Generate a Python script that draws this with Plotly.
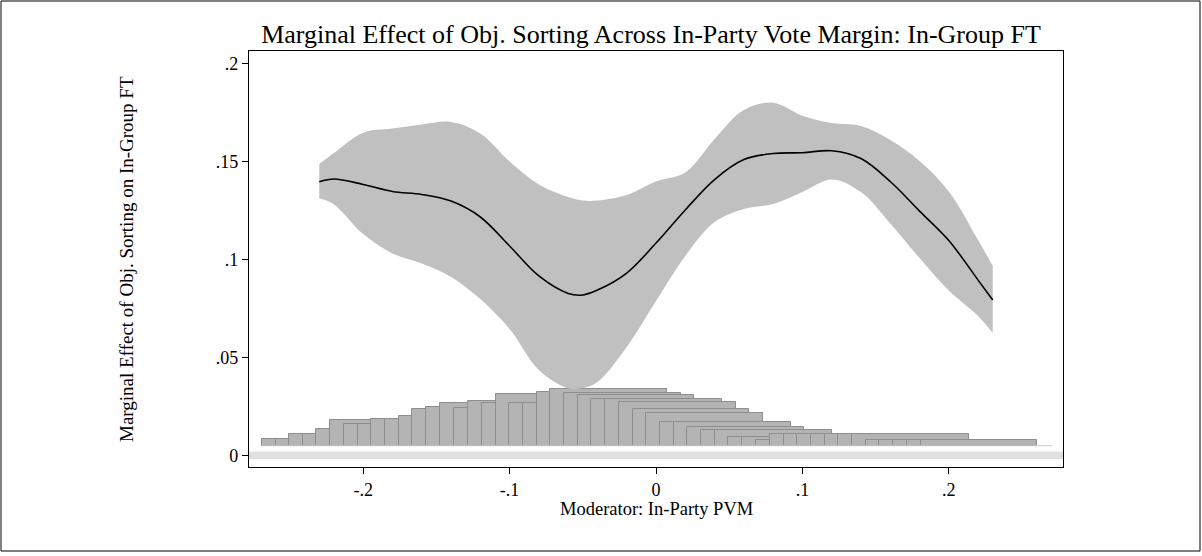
import plotly.graph_objects as go

# ---------------- data ----------------
pvm_grid = [-0.23, -0.22, -0.20, -0.18, -0.16, -0.14, -0.12, -0.10, -0.08, -0.06,
            -0.05, -0.04, -0.02, 0.00, 0.02, 0.04, 0.06, 0.08, 0.10, 0.12,
            0.14, 0.16, 0.18, 0.20, 0.22, 0.23]
me_est = [0.1396, 0.1410, 0.1382, 0.1346, 0.1331, 0.1297, 0.1216, 0.1068, 0.0915, 0.0826,
          0.0818, 0.0843, 0.0930, 0.1083, 0.1252, 0.1407, 0.1509, 0.1540, 0.1544, 0.1554,
          0.1514, 0.1397, 0.1246, 0.1096, 0.0894, 0.0792]
ci_upper = [0.1486, 0.1542, 0.1646, 0.1667, 0.1688, 0.1701, 0.1642, 0.1499, 0.1382, 0.1318,
            0.1300, 0.1300, 0.1328, 0.1397, 0.1443, 0.1614, 0.1762, 0.1799, 0.1733, 0.1695,
            0.1680, 0.1609, 0.1502, 0.1346, 0.1098, 0.0966]
ci_lower = [0.1311, 0.1280, 0.1129, 0.1030, 0.0979, 0.0910, 0.0797, 0.0644, 0.0435, 0.0341,
            0.0343, 0.0374, 0.0553, 0.0787, 0.1017, 0.1190, 0.1257, 0.1282, 0.1343, 0.1407,
            0.1343, 0.1183, 0.1007, 0.0841, 0.0711, 0.0624]

# histogram of the moderator (bar left edges and bar tops)
hist_left = [-0.2693, -0.2598, -0.2505, -0.2409, -0.2320, -0.2225, -0.2129, -0.2033, -0.1945, -0.1849,
             -0.1755, -0.1665, -0.1569, -0.1473, -0.1380, -0.1286, -0.1191, -0.1095, -0.1004, -0.0908,
             -0.0815, -0.0722, -0.0628, -0.0535, -0.0444, -0.0348, -0.0253, -0.0159, -0.0068, 0.0027,
             0.0125, 0.0214, 0.0309, 0.0405, 0.0494, 0.0589, 0.0685, 0.0779, 0.0872, 0.0965,
             0.1059, 0.1152, 0.1245, 0.1341, 0.1432, 0.1525, 0.1621, 0.1712, 0.1808]
hist_top = [0.0082, 0.0082, 0.0109, 0.0109, 0.0136, 0.0179, 0.0160, 0.0160, 0.0184, 0.0184,
            0.0202, 0.0235, 0.0248, 0.0267, 0.0241, 0.0279, 0.0268, 0.0313, 0.0268, 0.0268,
            0.0323, 0.0340, 0.0316, 0.0306, 0.0287, 0.0287, 0.0270, 0.0235, 0.0214, 0.0168,
            0.0168, 0.0146, 0.0129, 0.0129, 0.0093, 0.0093, 0.0077, 0.0107, 0.0107, 0.0107,
            0.0107, 0.0107, 0.0107, 0.0107, 0.0077, 0.0077, 0.0077, 0.0077, 0.0077]
hist_base = 0.0049
pvm_range = [-0.2693, 0.2703]

x_ticks = [-0.2, -0.1, 0, 0.1, 0.2]
x_tick_labels = ["-.2", "-.1", "0", ".1", ".2"]
y_ticks = [0, 0.05, 0.1, 0.15, 0.2]
y_tick_labels = ["0", ".05", ".1", ".15", ".2"]

# ---------------- figure ----------------
FONT = "Liberation Serif"
W, H = 1202, 556
L, R, T, B = 249, 139, 51, 89
pw, ph = W - L - R, H - T - B

fig = go.Figure()

# confidence band
fig.add_trace(go.Scatter(x=pvm_grid, y=ci_lower, mode="lines", line=dict(width=0, color="#c0c0c0", shape="spline"),
                         hoverinfo="skip", showlegend=False))
fig.add_trace(go.Scatter(x=pvm_grid, y=ci_upper, mode="lines", line=dict(width=0, color="#c0c0c0", shape="spline"),
                         fill="tonexty", fillcolor="#c0c0c0", hoverinfo="skip", showlegend=False))

# histogram base line
fig.add_trace(go.Scatter(x=pvm_range, y=[hist_base, hist_base], mode="lines",
                         line=dict(color="#c8c8c8", width=1), hoverinfo="skip", showlegend=False))

# histogram bars (overlapping, drawn left to right)
fig.add_trace(go.Bar(x=hist_left, y=[t - hist_base for t in hist_top], base=hist_base,
                     width=0.0797, offset=0,
                     marker=dict(color="#b4b4b4", line=dict(color="#8e8e8e", width=1)),
                     showlegend=False))

# marginal effect line
fig.add_trace(go.Scatter(x=pvm_grid, y=me_est, mode="lines",
                         line=dict(color="black", width=1.6, shape="spline"), showlegend=False))

# thick light zero line
fig.add_shape(type="line", xref="paper", yref="y", x0=0, x1=1, y0=0, y1=0,
              line=dict(color="#e0e0e0", width=7.5), layer="below")

# outer border of the graph
fig.add_shape(type="rect", xref="paper", yref="paper",
              x0=(1 - L) / pw, x1=(W - 2 - L) / pw,
              y0=(H - B - 551) / ph, y1=(H - B - 1) / ph,
              line=dict(color="black", width=1), fillcolor="rgba(0,0,0,0)")

axis_common = dict(showgrid=False, zeroline=False, showline=True, linecolor="black", linewidth=1.3,
                   mirror=True, ticks="outside", ticklen=6, tickwidth=1.2, tickcolor="black",
                   tickfont=dict(family=FONT, size=18, color="black"))

fig.update_layout(
    width=W, height=H,
    margin=dict(l=L, r=R, t=T, b=B),
    paper_bgcolor="white", plot_bgcolor="white",
    barmode="overlay", bargap=0,
    title=dict(text="Marginal Effect of Obj. Sorting Across In-Party Vote Margin: In-Group FT",
               font=dict(family=FONT, size=26, color="black"),
               x=(651 - L) / pw, xref="paper", xanchor="center",
               y=1 - 34 / H, yref="container", yanchor="middle"),
    xaxis=dict(range=[-0.278, 0.278], tickvals=x_ticks, ticktext=x_tick_labels, **axis_common),
    yaxis=dict(range=[-0.00597, 0.2063], tickvals=y_ticks, ticktext=y_tick_labels, **axis_common),
    annotations=[
        dict(text="Moderator: In-Party PVM", xref="paper", yref="paper",
             x=0.5, y=(H - B - 509) / ph, xanchor="center", yanchor="middle", showarrow=False,
             font=dict(family=FONT, size=18.5, color="black")),
        dict(text="Marginal Effect of Obj. Sorting on In-Group FT", xref="paper", yref="paper",
             x=(126 - L) / pw, y=0.5, xanchor="center", yanchor="middle", textangle=-90, showarrow=False,
             font=dict(family=FONT, size=19, color="black")),
    ],
)

fig.write_html("out.html", config={"displayModeBar": False},
               post_script="document.body.style.margin='0px';")
